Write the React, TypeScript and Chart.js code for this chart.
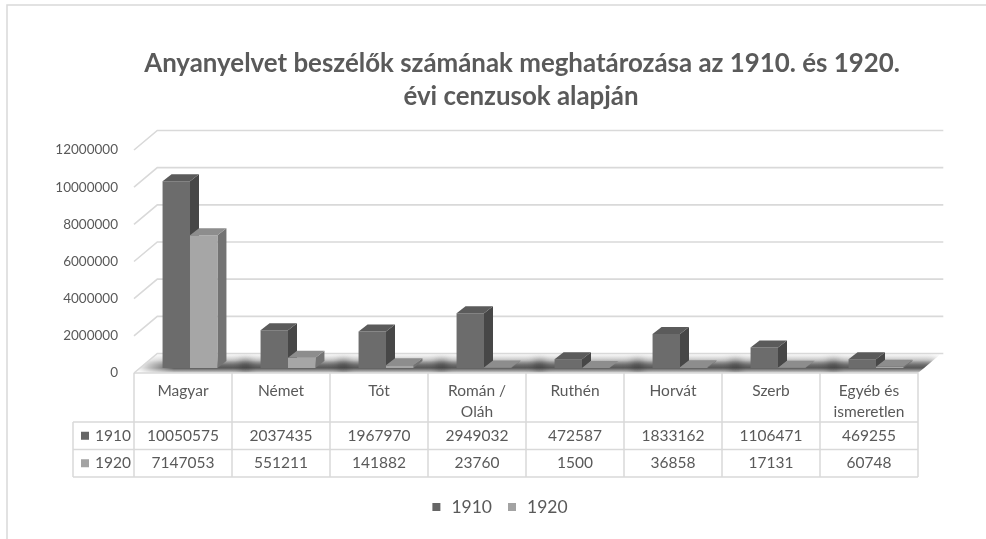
import React, { useEffect, useRef } from "react";
import { Chart, registerables } from "chart.js";

Chart.register(...registerables);

// ---------- data ----------
const categories: string[][] = [
  ["Magyar"],
  ["Német"],
  ["Tót"],
  ["Román /", "Oláh"],
  ["Ruthén"],
  ["Horvát"],
  ["Szerb"],
  ["Egyéb és", "ismeretlen"],
];
const series1910 = [10050575, 2037435, 1967970, 2949032, 472587, 1833162, 1106471, 469255];
const series1920 = [7147053, 551211, 141882, 23760, 1500, 36858, 17131, 60748];
const seriesNames = ["1910", "1920"];
const yTicks = [0, 2000000, 4000000, 6000000, 8000000, 10000000, 12000000];
const titleLines = [
  "Anyanyelvet beszélők számának meghatározása az 1910. és 1920.",
  "évi cenzusok alapján",
];

// ---------- styling ----------
const TEXT = "#595959";
const GRID = "#d9d9d9";
const FONT = "Lato";
const DEPTH_X = 23.3;
const DEPTH_Y = -19.5;
const BAR_SHIFT_X = 7;
const BAR_SHIFT_Y = -5;
const BAR_DX = 9;
const BAR_DY = -7;
const palette = [
  { front: "#6c6c6c", top: "#5b5b5b", side: "#474747", key: "#666666" },
  { front: "#a6a6a6", top: "#8d8d8d", side: "#737373", key: "#a3a3a3" },
];

function line(ctx: CanvasRenderingContext2D, x1: number, y1: number, x2: number, y2: number) {
  ctx.beginPath();
  ctx.moveTo(x1, y1);
  ctx.lineTo(x2, y2);
  ctx.stroke();
}

function poly(ctx: CanvasRenderingContext2D, pts: number[][], fill: string) {
  ctx.beginPath();
  ctx.moveTo(pts[0][0], pts[0][1]);
  for (let i = 1; i < pts.length; i++) ctx.lineTo(pts[i][0], pts[i][1]);
  ctx.closePath();
  ctx.fillStyle = fill;
  ctx.fill();
}

const threeD = {
  id: "threeD",
  beforeDraw(chart: any) {
    const { ctx, chartArea: a, scales } = chart;
    const y = scales.y;
    ctx.save();

    // frame
    ctx.strokeStyle = GRID;
    ctx.lineWidth = 1.5;
    ctx.beginPath();
    ctx.moveTo(7, 539);
    ctx.lineTo(7, 5);
    ctx.lineTo(986, 5);
    ctx.stroke();

    // title
    ctx.fillStyle = "#5a5a5a";
    ctx.textAlign = "center";
    ctx.textBaseline = "middle";
    ctx.font = `bold 24px ${FONT}`;
    const w = ctx.measureText(titleLines[0]).width;
    const size = (24 * 756) / w;
    ctx.font = `bold ${size.toFixed(2)}px ${FONT}`;
    ctx.fillText(titleLines[0], 522, 64);
    ctx.fillText(titleLines[1], 521, 97);

    // floor
    const f0 = y.getPixelForValue(0);
    const floorPts = [
      [a.left, f0],
      [a.right, f0],
      [a.right + DEPTH_X, f0 + DEPTH_Y],
      [a.left + DEPTH_X, f0 + DEPTH_Y],
    ];
    poly(ctx, floorPts, "#ffffff");
    ctx.save();
    ctx.beginPath();
    ctx.moveTo(floorPts[0][0], floorPts[0][1]);
    for (let i = 1; i < 4; i++) ctx.lineTo(floorPts[i][0], floorPts[i][1]);
    ctx.closePath();
    ctx.clip();
    const g = ctx.createLinearGradient(0, f0 + DEPTH_Y, 0, f0);
    g.addColorStop(0, "rgba(90,90,90,0)");
    g.addColorStop(0.35, "rgba(90,90,90,0.05)");
    g.addColorStop(0.58, "rgba(70,70,70,0.5)");
    g.addColorStop(0.74, "rgba(60,60,60,0.7)");
    g.addColorStop(0.9, "rgba(110,110,110,0.35)");
    g.addColorStop(1, "rgba(200,200,200,0.15)");
    ctx.fillStyle = g;
    ctx.fillRect(a.left, f0 + DEPTH_Y, a.right - a.left + DEPTH_X, -DEPTH_Y);
    // darker shadows below bars
    const meta0 = chart.getDatasetMeta(0);
    const meta1 = chart.getDatasetMeta(1);
    ctx.filter = "blur(4px)";
    ctx.fillStyle = "rgba(40,40,40,0.6)";
    for (let i = 0; i < categories.length; i++) {
      const e0 = meta0.data[i].getProps(["x", "width"], true);
      const e1 = meta1.data[i].getProps(["x", "width"], true);
      const x0 = e0.x - e0.width / 2 + BAR_SHIFT_X - 20;
      const x1 = e1.x + e1.width / 2 + BAR_SHIFT_X + BAR_DX + 24;
      ctx.fillRect(x0, f0 + BAR_SHIFT_Y - 7, x1 - x0, 9);
    }
    ctx.filter = "none";
    // fade the left end
    const lg = ctx.createLinearGradient(a.left, 0, a.left + 40, 0);
    lg.addColorStop(0, "rgba(255,255,255,1)");
    lg.addColorStop(1, "rgba(255,255,255,0)");
    ctx.fillStyle = lg;
    ctx.fillRect(a.left, f0 + DEPTH_Y, 40, -DEPTH_Y);
    ctx.restore();

    // walls (gridlines)
    ctx.strokeStyle = GRID;
    ctx.lineWidth = 1.6;
    for (const v of yTicks) {
      const fy = y.getPixelForValue(v);
      ctx.beginPath();
      ctx.moveTo(a.left, fy);
      ctx.lineTo(a.left + DEPTH_X, fy + DEPTH_Y);
      ctx.lineTo(a.right + DEPTH_X + 2, fy + DEPTH_Y);
      ctx.stroke();
    }
    ctx.restore();
  },
  beforeDatasetsDraw(chart: any) {
    const { ctx } = chart;
    ctx.save();
    const n = categories.length;
    for (let i = 0; i < n; i++) {
      for (let d = 0; d < chart.data.datasets.length; d++) {
        const el = chart.getDatasetMeta(d).data[i];
        const { x, y, base, width } = el.getProps(["x", "y", "base", "width"], true);
        const c = palette[d];
        const x0 = x - width / 2 + BAR_SHIFT_X;
        const x1 = x + width / 2 + BAR_SHIFT_X;
        const yt = y + BAR_SHIFT_Y;
        const yb = base + BAR_SHIFT_Y;
        // side
        poly(ctx, [[x1, yt], [x1 + BAR_DX, yt + BAR_DY], [x1 + BAR_DX, yb + BAR_DY], [x1, yb]], c.side);
        // front
        poly(ctx, [[x0, yt], [x1, yt], [x1, yb], [x0, yb]], c.front);
        // top
        poly(ctx, [[x0, yt], [x1, yt], [x1 + BAR_DX, yt + BAR_DY], [x0 + BAR_DX, yt + BAR_DY]], c.top);
      }
    }
    ctx.restore();
    return false;
  },
  afterDraw(chart: any) {
    const { ctx, chartArea: a, scales } = chart;
    const xs = scales.x;
    const n = categories.length;
    const colW = (a.right - a.left) / n;
    const top = a.bottom;
    const hb = 422;
    const r1 = 449.5;
    const r2 = 477;
    const lx = 73;
    ctx.save();
    ctx.strokeStyle = GRID;
    ctx.lineWidth = 1.5;
    line(ctx, a.left, top, a.right, top);
    for (const yy of [hb, r1, r2]) line(ctx, lx, yy, a.right, yy);
    for (let i = 0; i <= n; i++) {
      const xx = a.left + i * colW;
      line(ctx, xx, top, xx, r2);
    }
    line(ctx, lx, hb, lx, r2);

    ctx.fillStyle = TEXT;
    ctx.textAlign = "center";
    ctx.textBaseline = "middle";
    ctx.font = `15.5px ${FONT}`;
    for (let i = 0; i < n; i++) {
      const cx = xs.getPixelForValue(i);
      categories[i].forEach((s, k) => ctx.fillText(s, cx, 391 + k * 21));
    }
    const rows = [series1910, series1920];
    const mids = [(hb + r1) / 2, (r1 + r2) / 2];
    rows.forEach((vals, r) => {
      ctx.textAlign = "center";
      ctx.fillStyle = TEXT;
      vals.forEach((v, i) => ctx.fillText(String(v), xs.getPixelForValue(i), mids[r]));
      ctx.fillStyle = palette[r].key;
      ctx.fillRect(81, mids[r] - 4, 8, 8);
      ctx.fillStyle = TEXT;
      ctx.textAlign = "left";
      ctx.fillText(seriesNames[r], 95, mids[r]);
    });

    // legend
    ctx.font = `17.5px ${FONT}`;
    const tw = seriesNames.map((s) => ctx.measureText(s).width);
    const total = 8 + 11 + tw[0] + 16 + 8 + 11 + tw[1];
    let lxp = 500 - total / 2;
    const ly = 507;
    seriesNames.forEach((s, r) => {
      ctx.fillStyle = palette[r].key;
      ctx.fillRect(lxp, ly - 4, 8, 8);
      lxp += 19;
      ctx.fillStyle = TEXT;
      ctx.textAlign = "left";
      ctx.fillText(s, lxp, ly);
      lxp += tw[r] + 16;
    });
    ctx.restore();
  },
};

export default function App() {
  const ref = useRef<HTMLCanvasElement>(null);
  useEffect(() => {
    const canvas = ref.current!;
    const chart = new Chart(canvas, {
      type: "bar",
      data: {
        labels: categories,
        datasets: [
          { label: seriesNames[0], data: series1910, backgroundColor: palette[0].front },
          { label: seriesNames[1], data: series1920, backgroundColor: palette[1].front },
        ],
      },
      options: {
        responsive: false,
        animation: false,
        devicePixelRatio: 1,
        layout: { padding: { left: 0, right: 986 - 918, top: 150, bottom: 539 - 373 } },
        datasets: { bar: { categoryPercentage: 0.56, barPercentage: 1 } },
        scales: {
          x: { display: false, offset: true },
          y: {
            min: 0,
            max: 12000000,
            afterFit(s: any) {
              s.width = 134;
            },
            grid: { display: false, drawTicks: false },
            border: { display: false },
            ticks: {
              stepSize: 2000000,
              padding: 16,
              color: TEXT,
              font: { family: FONT, size: 13.5 },
              callback: (v: any) => String(v),
            },
          },
        },
        plugins: {
          legend: { display: false },
          title: { display: false },
          tooltip: { enabled: false },
        },
      } as any,
      plugins: [threeD as any],
    });
    return () => chart.destroy();
  }, []);
  return (
    <div style={{ position: "fixed", left: 0, top: 0, width: 986, height: 539, background: "#fff" }}>
      <canvas ref={ref} width={986} height={539} style={{ display: "block" }} />
    </div>
  );
}
